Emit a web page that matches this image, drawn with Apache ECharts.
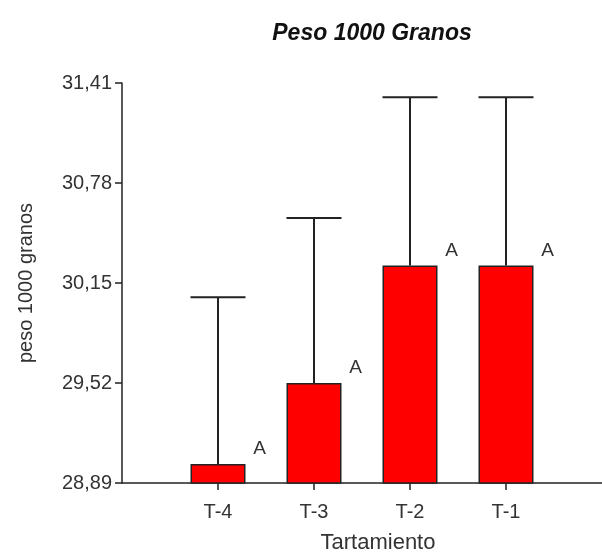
<!DOCTYPE html>
<html>
<head>
<meta charset="utf-8">
<script src="https://cdn.jsdelivr.net/npm/echarts@6/dist/echarts.min.js"></script>
<style>html,body{margin:0;padding:0;background:#fff;}#c{width:602px;height:559px;}</style>
</head>
<body>
<div id="c"></div>
<script>
const categories = ['T-4', 'T-3', 'T-2', 'T-1'];
const means = [29.01, 29.52, 30.26, 30.26];
const errors = [1.05, 1.04, 1.06, 1.06];
const letters = ['A', 'A', 'A', 'A'];
const yTicks = [28.89, 29.52, 30.15, 30.78, 31.41];

const FONT = 'Liberation Sans';
const positions = categories.map((c, i) => i + 1);
const barData = means.map((m, i) => [positions[i], m]);
const errData = means.map((m, i) => [positions[i], m, m + errors[i]]);
const BAR_W = 55;

const chart = echarts.init(document.getElementById('c'), null, {renderer: 'canvas'});
chart.setOption({
  animation: false,
  backgroundColor: '#fff',
  title: {
    text: 'Peso 1000 Granos',
    left: 367, top: 17, textAlign: 'center',
    textStyle: {fontFamily: FONT, fontSize: 23, fontWeight: 'bold', fontStyle: 'italic', color: '#111'}
  },
  grid: {left: 122, right: 0, top: 83, bottom: 68, containLabel: false},
  xAxis: {
    type: 'value', min: 0, max: 5,
    name: 'Tartamiento', nameLocation: 'middle', nameGap: 49,
    nameTextStyle: {fontFamily: FONT, fontSize: 22, color: '#333', padding: [0, 0, 0, 32]},
    axisLine: {show: true, lineStyle: {color: '#222', width: 1.5}},
    axisTick: {show: true, length: 7, customValues: positions, lineStyle: {color: '#222', width: 1.5}},
    axisLabel: {customValues: positions, formatter: v => categories[Math.round(v) - 1] || '',
      fontFamily: FONT, fontSize: 20, color: '#333', margin: 19},
    splitLine: {show: false}
  },
  yAxis: {
    type: 'value', min: yTicks[0], max: yTicks[yTicks.length - 1],
    name: 'peso 1000 granos', nameLocation: 'middle', nameGap: 86, nameRotate: 90,
    nameTextStyle: {fontFamily: FONT, fontSize: 20, color: '#333'},
    axisLine: {show: true, lineStyle: {color: '#222', width: 1.5}},
    axisTick: {show: true, length: 7, customValues: yTicks, lineStyle: {color: '#222', width: 1.5}},
    axisLabel: {customValues: yTicks, formatter: v => v.toFixed(2).replace('.', ','),
      fontFamily: FONT, fontSize: 20, color: '#333', margin: 10},
    splitLine: {show: false}
  },
  series: [
    {
      type: 'bar',
      data: barData,
      barWidth: BAR_W,
      itemStyle: {color: '#ff0000', borderColor: '#222', borderWidth: 1.5},
      label: {
        show: true, formatter: p => letters[p.dataIndex],
        position: ['100%', 0], offset: [14, -15], align: 'center', verticalAlign: 'middle',
        fontFamily: FONT, fontSize: 19, color: '#333'
      },
      z: 2
    },
    {
      type: 'custom',
      data: errData,
      z: 3,
      renderItem: function (params, api) {
        const x = api.value(0);
        const lo = api.coord([x, api.value(1)]);
        const hi = api.coord([x, api.value(2)]);
        const half = BAR_W / 2;
        const style = {stroke: '#222', lineWidth: 2};
        return {
          type: 'group',
          children: [
            {type: 'line', shape: {x1: lo[0], y1: lo[1], x2: hi[0], y2: hi[1]}, style: style},
            {type: 'line', shape: {x1: hi[0] - half, y1: hi[1], x2: hi[0] + half, y2: hi[1]}, style: style}
          ]
        };
      }
    }
  ]
});
</script>
</body>
</html>
